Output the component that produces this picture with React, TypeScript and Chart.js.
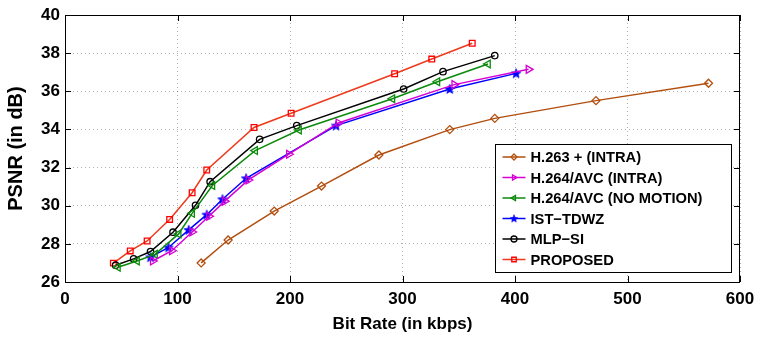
import React, { useEffect, useRef } from 'react';
import { Chart, registerables } from 'chart.js';

Chart.register(...registerables);

// ---- data ----
const seriesLabels = [
  'H.263 + (INTRA)',
  'H.264/AVC (INTRA)',
  'H.264/AVC (NO MOTION)',
  'IST\u2212TDWZ',
  'MLP\u2212SI',
  'PROPOSED',
];

const h263X = [121, 145, 186, 228, 279, 342, 382, 472, 572];
const h263Y = [27.0, 28.2, 29.72, 31.03, 32.66, 33.99, 34.58, 35.51, 36.42];

const avcIntraX = [78, 95, 113, 128, 142, 163, 199, 243, 346, 412];
const avcIntraY = [27.1, 27.64, 28.62, 29.45, 30.24, 31.35, 32.7, 34.34, 36.35, 37.15];

const noMotionX = [47, 64, 80, 101, 113, 131, 169, 208, 291, 331, 376];
const noMotionY = [26.77, 27.1, 27.45, 28.52, 29.6, 31.06, 32.89, 33.97, 35.61, 36.5, 37.43];

const istX = [76, 92, 110, 126, 140, 161, 241, 342, 401];
const istY = [27.3, 27.81, 28.73, 29.53, 30.34, 31.44, 34.2, 36.12, 36.94];

const mlpX = [45, 61, 76, 96, 116, 129, 173, 206, 301, 336, 382];
const mlpY = [26.88, 27.21, 27.6, 28.61, 30.02, 31.26, 33.48, 34.2, 36.12, 37.03, 37.87];

const propX = [43, 58, 73, 93, 113, 126, 168, 201, 293, 326, 362];
const propY = [26.99, 27.63, 28.15, 29.28, 30.68, 31.87, 34.1, 34.85, 36.92, 37.69, 38.52];

const xTickValues = [0, 100, 200, 300, 400, 500, 600];
const yTickValues = [26, 28, 30, 32, 34, 36, 38, 40];

const FONT = "'Liberation Sans', Arial, Helvetica, sans-serif";

const lineColors = ['#B24E0E', '#D400D4', '#0B8A0B', '#0000FF', '#000000', '#EE3A1C'];
const pointColors = ['#B24E0E', '#D400D4', '#0B8A0B', '#0000FF', '#000000', '#FF0000'];
const markerKinds = ['diamond', 'triRight', 'triLeft', 'star', 'circle', 'square'];

function zip(xs: number[], ys: number[]) {
  return xs.map((x, i) => ({ x, y: ys[i] }));
}

function makeStar(r: number, color: string) {
  const size = Math.ceil(r * 2 + 2);
  const c = document.createElement('canvas');
  c.width = size;
  c.height = size;
  const ctx = c.getContext('2d')!;
  const cx = size / 2;
  const cy = size / 2 + 0.4;
  ctx.beginPath();
  for (let i = 0; i < 10; i++) {
    const rr = i % 2 === 0 ? r : r * 0.42;
    const a = -Math.PI / 2 + (i * Math.PI) / 5;
    const px = cx + rr * Math.cos(a);
    const py = cy + rr * Math.sin(a);
    if (i === 0) ctx.moveTo(px, py);
    else ctx.lineTo(px, py);
  }
  ctx.closePath();
  ctx.fillStyle = color;
  ctx.fill();
  ctx.strokeStyle = color;
  ctx.lineWidth = 0.8;
  ctx.stroke();
  return c;
}

function drawMarker(ctx: CanvasRenderingContext2D, kind: string, x: number, y: number, color: string, r: number, star: HTMLCanvasElement) {
  ctx.save();
  ctx.strokeStyle = color;
  ctx.fillStyle = color;
  ctx.lineWidth = 1.3;
  ctx.beginPath();
  if (kind === 'diamond') {
    ctx.moveTo(x, y - r);
    ctx.lineTo(x + r, y);
    ctx.lineTo(x, y + r);
    ctx.lineTo(x - r, y);
    ctx.closePath();
    ctx.stroke();
  } else if (kind === 'triRight' || kind === 'triLeft') {
    const d = kind === 'triRight' ? 1 : -1;
    ctx.moveTo(x + d * r, y);
    ctx.lineTo(x - d * r * 0.5, y - r * 0.87);
    ctx.lineTo(x - d * r * 0.5, y + r * 0.87);
    ctx.closePath();
    ctx.stroke();
  } else if (kind === 'circle') {
    ctx.arc(x, y, r, 0, Math.PI * 2);
    ctx.stroke();
  } else if (kind === 'square') {
    ctx.rect(x - r * 0.75, y - r * 0.75, r * 1.5, r * 1.5);
    ctx.stroke();
  } else if (kind === 'star') {
    const w = star.width * 0.8;
    ctx.drawImage(star, x - w / 2, y - w / 2, w, w);
  }
  ctx.restore();
}

export default function App() {
  const ref = useRef<HTMLCanvasElement>(null);

  useEffect(() => {
    document.body.style.margin = '0';
    const star = makeStar(5, '#0000FF');

    const frameAndLegend = {
      id: 'frameAndLegend',
      afterDraw(chart: any) {
        const { ctx, chartArea: a, scales } = chart;
        ctx.save();
        // frame
        ctx.strokeStyle = '#000';
        ctx.lineWidth = 1;
        ctx.strokeRect(Math.round(a.left) + 0.5, Math.round(a.top) + 0.5, Math.round(a.right - a.left) - 1, Math.round(a.bottom - a.top));
        // inward ticks
        const tl = 6;
        ctx.beginPath();
        for (const v of xTickValues) {
          const px = Math.round(scales.x.getPixelForValue(v)) + 0.5;
          ctx.moveTo(px, a.bottom);
          ctx.lineTo(px, a.bottom - tl);
          ctx.moveTo(px, a.top);
          ctx.lineTo(px, a.top + tl);
        }
        for (const v of yTickValues) {
          const py = Math.round(scales.y.getPixelForValue(v)) + 0.5;
          ctx.moveTo(a.left, py);
          ctx.lineTo(a.left + tl, py);
          ctx.moveTo(a.right, py);
          ctx.lineTo(a.right - tl, py);
        }
        ctx.stroke();

        // legend
        const boxW = 236;
        const boxH = 128;
        const bx = Math.round(a.right - 9 - boxW) + 0.5;
        const by = Math.round(a.bottom - 10 - boxH) + 0.5;
        ctx.fillStyle = '#fff';
        ctx.fillRect(bx, by, boxW, boxH);
        ctx.strokeStyle = '#000';
        ctx.lineWidth = 1;
        ctx.strokeRect(bx, by, boxW, boxH);
        ctx.font = `bold 14.7px ${FONT}`;
        ctx.textBaseline = 'middle';
        ctx.textAlign = 'left';
        chart.data.datasets.forEach((ds: any, i: number) => {
          const cy = by + 12.5 + i * 20.5;
          ctx.strokeStyle = lineColors[i];
          ctx.lineWidth = 1.5;
          ctx.beginPath();
          ctx.moveTo(bx + 7, cy);
          ctx.lineTo(bx + 30, cy);
          ctx.stroke();
          drawMarker(ctx, markerKinds[i], bx + 18.5, cy, pointColors[i], 3, star);
          ctx.fillStyle = '#000';
          ctx.fillText(ds.label, bx + 35, cy + 1);
        });
        ctx.restore();
      },
    };

    const series = [
      zip(h263X, h263Y),
      zip(avcIntraX, avcIntraY),
      zip(noMotionX, noMotionY),
      zip(istX, istY),
      zip(mlpX, mlpY),
      zip(propX, propY),
    ];
    const styles: any[] = [
      { pointStyle: 'rectRot', pointRadius: 4, pointRotation: 0 },
      { pointStyle: 'triangle', pointRadius: 4.5, pointRotation: 90 },
      { pointStyle: 'triangle', pointRadius: 4.5, pointRotation: -90 },
      { pointStyle: star, pointRadius: 5, pointRotation: 0 },
      { pointStyle: 'circle', pointRadius: 3.2, pointRotation: 0 },
      { pointStyle: 'rect', pointRadius: 4, pointRotation: 0 },
    ];

    const datasets = series.map((data, i) => ({
      label: seriesLabels[i],
      data,
      showLine: true,
      borderColor: lineColors[i],
      borderWidth: 1.5,
      pointBorderColor: pointColors[i],
      pointBackgroundColor: 'rgba(0,0,0,0)',
      pointBorderWidth: 1.3,
      tension: 0,
      ...styles[i],
    }));

    const chart = new Chart(ref.current!, {
      type: 'line',
      data: { datasets },
      options: {
        responsive: false,
        animation: false,
        devicePixelRatio: 1,
        layout: { padding: { top: 15, right: 17, left: 0, bottom: 0 } },
        plugins: {
          legend: { display: false },
          tooltip: { enabled: false },
        },
        scales: {
          x: {
            type: 'linear',
            min: 0,
            max: 600,
            afterFit: (s: any) => {
              s.height = 55;
              s.paddingLeft = 0;
              s.paddingRight = 0;
            },
            afterBuildTicks: (s: any) => {
              s.ticks = xTickValues.map((v) => ({ value: v }));
            },
            ticks: {
              color: '#000',
              padding: 7,
              font: { family: FONT, size: 17, weight: 'bold' },
              maxRotation: 0,
            },
            grid: { color: 'rgba(0,0,0,0.3)', drawTicks: false, lineWidth: 1 },
            border: { display: false, dash: [1, 3] },
            title: {
              display: true,
              text: 'Bit Rate (in kbps)',
              color: '#000',
              font: { family: FONT, size: 17, weight: 'bold' },
              padding: { top: 0, bottom: 2 },
            },
          },
          y: {
            type: 'linear',
            min: 26,
            max: 40,
            afterFit: (s: any) => {
              s.width = 65;
              s.paddingTop = 0;
              s.paddingBottom = 0;
            },
            afterBuildTicks: (s: any) => {
              s.ticks = yTickValues.map((v) => ({ value: v }));
            },
            ticks: {
              color: '#000',
              padding: 5,
              font: { family: FONT, size: 17, weight: 'bold' },
            },
            grid: { color: 'rgba(0,0,0,0.3)', drawTicks: false, lineWidth: 1 },
            border: { display: false, dash: [1, 3] },
            title: {
              display: true,
              text: 'PSNR (in dB)',
              color: '#000',
              font: { family: FONT, size: 20, weight: 'bold' },
              padding: { top: 4, bottom: 0 },
            },
          },
        },
      } as any,
      plugins: [frameAndLegend],
    });
    return () => chart.destroy();
  }, []);

  return (
    <div style={{ position: 'absolute', left: 0, top: 0, width: 757, height: 337 }}>
      <canvas ref={ref} width={757} height={337} style={{ display: 'block' }} />
    </div>
  );
}
